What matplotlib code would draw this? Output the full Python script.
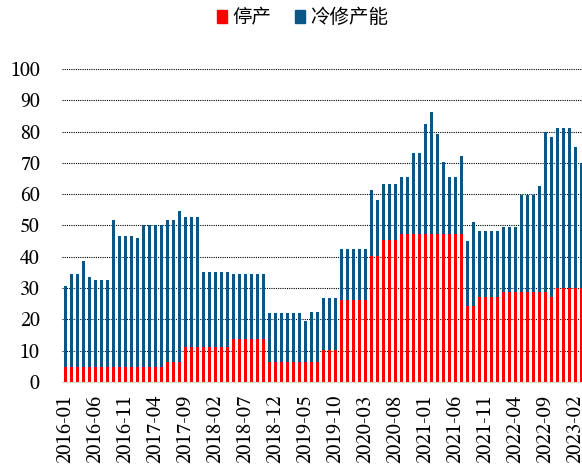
import matplotlib
matplotlib.use("Agg")
import matplotlib.pyplot as plt
import numpy as np
import pandas as pd
from matplotlib.patches import Patch

# monthly categories, 2016-01 .. 2023-03
months = list(pd.date_range("2016-01", periods=87, freq="MS").strftime("%Y-%m"))

# total height of each bar (停产 + 冷修产能)
total = [
    30.6, 34.4, 34.4, 38.6, 33.5, 32.5, 32.5, 32.5, 51.6, 46.6,
    46.6, 46.6, 45.9, 50.1, 50.1, 50.1, 50.1, 51.6, 51.6, 54.6,
    52.6, 52.6, 52.6, 35.0, 35.0, 35.0, 35.0, 35.0, 34.6, 34.6,
    34.6, 34.6, 34.6, 34.6, 22.1, 22.1, 22.1, 22.1, 22.1, 22.1,
    19.6, 22.5, 22.5, 26.7, 26.7, 26.7, 42.6, 42.6, 42.6, 42.6,
    42.6, 61.2, 58.1, 63.2, 63.2, 63.2, 65.4, 65.4, 73.3, 73.3,
    82.3, 86.3, 79.3, 70.3, 65.4, 65.4, 72.2, 45.2, 51.2, 48.1,
    48.1, 48.1, 48.1, 49.6, 49.6, 49.6, 59.6, 59.6, 59.6, 62.7,
    79.8, 78.2, 81.1, 81.1, 81.1, 75.2, 70.1,
]

# 停产 (red, bottom part)
stopped = [
    4.7, 4.7, 4.7, 4.7, 4.7, 4.7, 4.7, 4.7, 4.7, 4.7,
    4.7, 4.7, 4.7, 4.7, 4.7, 4.7, 4.7, 6.3, 6.3, 6.3,
    11.3, 11.3, 11.3, 11.3, 11.3, 11.3, 11.3, 11.3, 13.7, 13.7,
    13.7, 13.7, 13.7, 13.7, 6.3, 6.3, 6.3, 6.3, 6.3, 6.3,
    6.3, 6.3, 6.3, 10.1, 10.1, 10.1, 26.3, 26.3, 26.3, 26.3,
    26.3, 40.3, 40.3, 45.4, 45.4, 45.4, 47.4, 47.4, 47.4, 47.4,
    47.4, 47.4, 47.4, 47.4, 47.4, 47.4, 47.4, 24.4, 24.4, 27.2,
    27.2, 27.2, 27.2, 28.8, 28.8, 28.8, 28.8, 28.8, 28.8, 28.8,
    28.8, 27.2, 30.0, 30.0, 30.0, 30.0, 30.0,
]

cold_repair = list(np.array(total) - np.array(stopped))

red = "#FF0000"
blue = "#0C5685"

plt.rcParams["font.family"] = ["STIX Two Text", "DejaVu Serif"]

fig = plt.figure(figsize=(5.82, 4.69), dpi=100)
ax = fig.add_axes([62 / 582, 1 - 382 / 469, 520 / 582, 313 / 469])

x = np.arange(len(months))
ax.bar(x, stopped, width=0.55, color=red, zorder=2)
ax.bar(x, cold_repair, width=0.55, bottom=stopped, color=blue, zorder=2)

ax.set_ylim(0, 100)
ax.set_xlim(-0.55, 86.1)
ax.set_yticks(np.arange(0, 101, 10))
ax.set_xticks(x[::5])
ax.set_xticklabels(months[::5], rotation=90)

ax.set_axisbelow(True)
ax.yaxis.grid(True, color="black", linestyle=(0, (1, 1)), linewidth=0.8)
for s in ["top", "right", "left"]:
    ax.spines[s].set_visible(False)
ax.spines["bottom"].set_color("#d9d9d9")
ax.tick_params(axis="y", length=0, pad=16, labelsize=14.5)
ax.tick_params(axis="x", length=0, pad=9, labelsize=15)

handles = [Patch(color=red, label="停产"), Patch(color=blue, label="冷修产能")]
fig.legend(handles=handles, loc="center", bbox_to_anchor=(0.52, 0.962), ncol=2,
           frameon=False, handlelength=0.5, handleheight=0.7, handletextpad=0.3,
           columnspacing=1.2, prop={"family": "Noto Sans CJK SC", "size": 14})

fig.savefig("out.png", dpi=100)
